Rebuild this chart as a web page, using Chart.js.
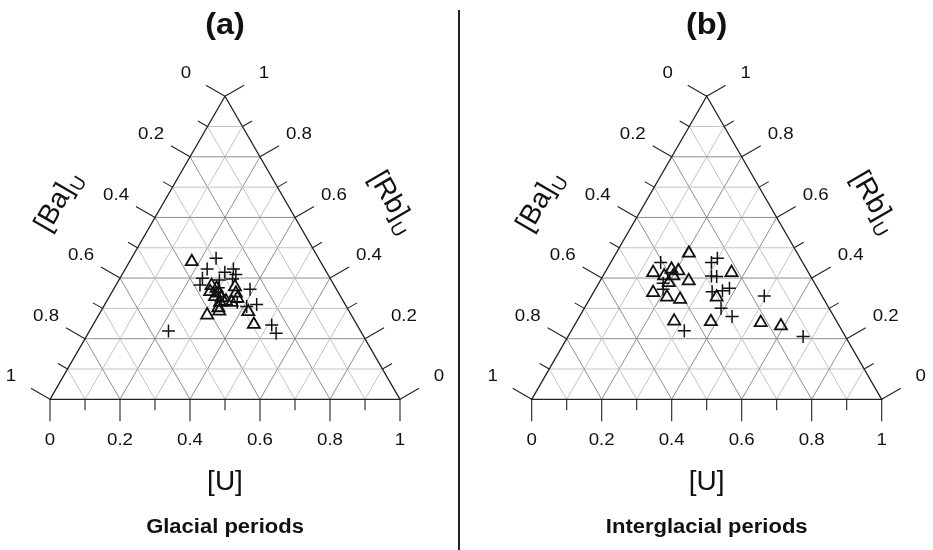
<!DOCTYPE html>
<html>
<head>
<meta charset="utf-8">
<script src="https://cdn.jsdelivr.net/npm/chart.js@4"></script>
<style>
html,body{margin:0;padding:0;background:#fff;}
#wrap{position:relative;width:933px;height:550px;overflow:hidden;background:#fff;}
.panel{position:absolute;top:0;width:459px;height:550px;}
#sep{position:absolute;left:458px;top:10px;width:1.5px;height:540px;background:#222;}
</style>
</head>
<body>
<div id="wrap">
  <div class="panel" style="left:0px"><canvas id="ca" width="459" height="550"></canvas></div>
  <div class="panel" style="left:474px"><canvas id="cb" width="459" height="550"></canvas></div>
  <div id="sep"></div>
</div>
<script>
// compositions: [Ba, Rb, U]
const glacialTriangles = [
[0.368,0.454,0.178],[0.351,0.375,0.274],[0.365,0.355,0.280],[0.341,0.366,0.293],
[0.344,0.350,0.306],[0.359,0.339,0.302],[0.342,0.335,0.323],[0.354,0.320,0.326],
[0.335,0.324,0.341],[0.368,0.302,0.330],[0.286,0.371,0.343],[0.294,0.350,0.356],
[0.298,0.333,0.369],[0.321,0.320,0.359],[0.412,0.278,0.310],[0.371,0.291,0.338],
[0.289,0.289,0.422],[0.294,0.247,0.459]
];
const glacialCrosses = [
[0.293,0.465,0.242],[0.336,0.430,0.234],[0.365,0.399,0.236],[0.383,0.377,0.240],
[0.291,0.419,0.290],[0.261,0.430,0.309],[0.263,0.412,0.325],[0.280,0.397,0.323],
[0.319,0.394,0.287],[0.335,0.368,0.297],[0.247,0.363,0.390],[0.305,0.320,0.375],
[0.253,0.313,0.434],[0.285,0.306,0.409],[0.549,0.225,0.226],[0.244,0.245,0.511],
[0.245,0.218,0.537]
];
const interglacialTriangles = [
[0.310,0.482,0.208],[0.444,0.418,0.138],[0.418,0.407,0.175],[0.386,0.429,0.185],
[0.369,0.424,0.207],[0.392,0.407,0.201],[0.416,0.385,0.199],[0.356,0.391,0.253],
[0.477,0.352,0.171],[0.445,0.337,0.218],[0.411,0.330,0.259],[0.220,0.418,0.362],
[0.303,0.337,0.360],[0.464,0.258,0.278],[0.360,0.256,0.384],[0.219,0.253,0.528],
[0.167,0.242,0.591]
];
const interglacialCrosses = [
[0.406,0.451,0.143],[0.261,0.451,0.288],[0.237,0.465,0.298],[0.283,0.407,0.310],
[0.269,0.405,0.326],[0.433,0.383,0.184],[0.443,0.363,0.194],[0.307,0.355,0.338],
[0.276,0.358,0.366],[0.252,0.366,0.382],[0.165,0.341,0.494],[0.309,0.300,0.391],
[0.291,0.273,0.436],[0.451,0.226,0.323],[0.121,0.207,0.672]
];
const tickValues = [0,0.1,0.2,0.3,0.4,0.5,0.6,0.7,0.8,0.9,1];
const tickLabels = ['0','','0.2','','0.4','','0.6','','0.8','','1'];

const S3 = Math.sqrt(3)/2;
const FONT = '"Liberation Sans", Arial, Helvetica, sans-serif';
function toXY(c){ return {x: c[2] + c[1]/2, y: c[1]*S3}; }

function txt(ctx, s, x, y, font, sx, rot){
  ctx.save();
  ctx.translate(x,y);
  if(rot) ctx.rotate(rot);
  ctx.scale(sx||1,1);
  ctx.font = font;
  ctx.textAlign='center'; ctx.textBaseline='middle';
  ctx.fillText(s,0,0);
  ctx.restore();
}
function subLabel(ctx, main, sub, x, y, rot){
  ctx.save();
  ctx.translate(x,y); ctx.rotate(rot);
  ctx.fillStyle='#111';
  ctx.font = '28px '+FONT;
  const w1 = ctx.measureText(main).width;
  ctx.font = '19px '+FONT;
  const w2 = ctx.measureText(sub).width;
  const tot = w1+w2;
  ctx.textBaseline='alphabetic'; ctx.textAlign='left';
  ctx.font = '28px '+FONT;
  ctx.fillText(main, -tot/2, 8);
  ctx.font = '19px '+FONT;
  ctx.fillText(sub, -tot/2+w1+1, 15);
  ctx.restore();
}

const ternaryPlugin = {
  id:'ternary',
  beforeDatasetsDraw(chart, args, opts){
    const ctx = chart.ctx, sx = chart.scales.x, sy = chart.scales.y;
    const P = c => [sx.getPixelForValue(c[2]+c[1]/2), sy.getPixelForValue(c[1]*S3)];
    const line = (a,b,col,w)=>{ctx.beginPath();ctx.strokeStyle=col;ctx.lineWidth=w;ctx.moveTo(a[0],a[1]);ctx.lineTo(b[0],b[1]);ctx.stroke();};
    ctx.save();
    // grid
    for(let i=1;i<10;i++){
      const v = tickValues[i];
      const col = (i%2===0)?'#8e8e8e':'#c4c4c4';
      line(P([1-v,v,0]),P([0,v,1-v]),col,1);
      line(P([1-v,0,v]),P([0,1-v,v]),col,1);
      line(P([v,0,1-v]),P([v,1-v,0]),col,1);
    }
    // edges
    const A=P([1,0,0]),B=P([0,0,1]),C=P([0,1,0]);
    ctx.beginPath();ctx.strokeStyle='#222';ctx.lineWidth=1.3;
    ctx.moveTo(A[0],A[1]);ctx.lineTo(B[0],B[1]);ctx.lineTo(C[0],C[1]);ctx.closePath();ctx.stroke();
    // ticks & labels
    ctx.fillStyle='#111';
    tickValues.forEach((v,i)=>{
      const major = i%2===0, L = major?22:11;
      const axes = [
        {p:P([1-v,0,v]), d:[0,1], off:41},
        {p:P([v,1-v,0]), d:[-0.866,-0.5], off:45},
        {p:P([0,v,1-v]), d:[0.866,-0.5], off:45}
      ];
      axes.forEach(a=>{
        line(a.p,[a.p[0]+a.d[0]*L,a.p[1]+a.d[1]*L],'#222',1.1);
        if(major) txt(ctx, tickLabels[i], a.p[0]+a.d[0]*a.off, a.p[1]+a.d[1]*a.off, '17px '+FONT, 1.1);
      });
    });
    // titles
    const cx = (A[0]+B[0])/2;
    txt(ctx, opts.panel, cx, 26, 'bold 29px '+FONT, 1.12);
    txt(ctx, '[U]', cx, 482, '28px '+FONT, 1);
    txt(ctx, opts.sub, cx, 527, 'bold 20px '+FONT, 1.1);
    const la = P([0.5,0.5,0]), ra = P([0,0.5,0.5]);
    subLabel(ctx,'[Ba]','U', la[0]-0.866*92, la[1]-0.5*92, -Math.PI/3);
    subLabel(ctx,'[Rb]','U', ra[0]+0.866*92, ra[1]-0.5*92, Math.PI/3);
    ctx.restore();
  }
};

function makeChart(id, tri, cross, padL, panel, sub){
  const padR = 459 - padL - 350;
  return new Chart(document.getElementById(id), {
    type:'scatter',
    data:{datasets:[
      {data: tri.map(toXY), pointStyle:'triangle', pointRadius:7, borderColor:'#111', backgroundColor:'rgba(0,0,0,0)', borderWidth:1.8, pointHoverRadius:7},
      {data: cross.map(toXY), pointStyle:'cross', pointRadius:6.5, borderColor:'#111', backgroundColor:'rgba(0,0,0,0)', borderWidth:1.5, pointHoverRadius:6.5}
    ]},
    options:{
      responsive:false, animation:false, events:[],
      layout:{padding:{left:padL,right:padR,top:96.2,bottom:150.7}},
      scales:{x:{type:'linear',min:0,max:1,display:false},y:{type:'linear',min:0,max:S3,display:false}},
      plugins:{legend:{display:false},tooltip:{enabled:false},ternary:{panel:panel,sub:sub}},
      clip:false
    },
    plugins:[ternaryPlugin]
  });
}
makeChart('ca', glacialTriangles, glacialCrosses, 50, '(a)', 'Glacial periods');
makeChart('cb', interglacialTriangles, interglacialCrosses, 57.7, '(b)', 'Interglacial periods');
</script>
</body>
</html>
